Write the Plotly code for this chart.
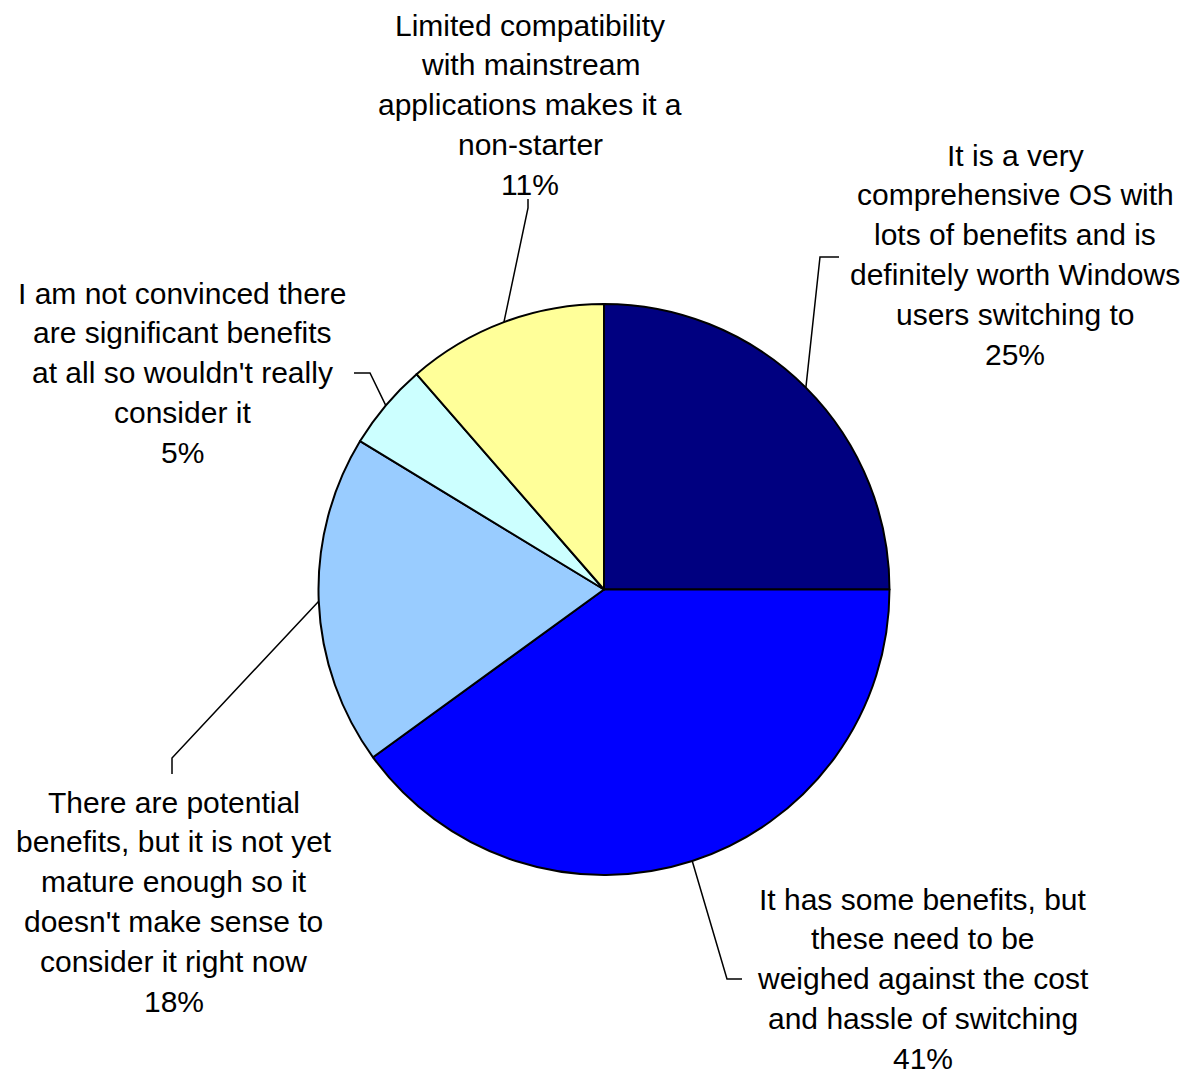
import math
import plotly.graph_objects as go

# ---- data ----
categories = [
    "It is a very comprehensive OS with lots of benefits and is definitely worth Windows users switching to",
    "It has some benefits, but these need to be weighed against the cost and hassle of switching",
    "There are potential benefits, but it is not yet mature enough so it doesn't make sense to consider it right now",
    "I am not convinced there are significant benefits at all so wouldn't really consider it",
    "Limited compatibility with mainstream applications makes it a non-starter",
]
values = [25.0, 40.0, 18.7, 4.9, 11.4]          # slice sizes
pct_labels = ["25%", "41%", "18%", "5%", "11%"]  # percentages as printed
label_lines = [
    ["It is a very", "comprehensive OS with", "lots of benefits and is",
     "definitely worth Windows", "users switching to"],
    ["It has some benefits, but", "these need to be", "weighed against the cost",
     "and hassle of switching"],
    ["There are potential", "benefits, but it is not yet", "mature enough so it",
     "doesn't make sense to", "consider it right now"],
    ["I am not convinced there", "are significant benefits", "at all so wouldn't really",
     "consider it"],
    ["Limited compatibility", "with mainstream", "applications makes it a",
     "non-starter"],
]
colors = ["#000080", "#0000FF", "#99CCFF", "#CCFFFF", "#FFFF99"]

# ---- layout constants (window pixels) ----
WIN_W, WIN_H = 1193, 1074
OFF = 8  # default page body margin
W, H = WIN_W - OFF, WIN_H - OFF
CX, CY, R = 604, 589.5, 285.5
# label block: (center x, first line y)
label_pos = [(1015, 155), (923, 899), (174, 802), (182, 293), (530, 25)]
LINE_H = 39.8
# leader: elbow point, end point
leaders = [((820, 257), (839, 257)),
           ((727, 979), (742, 979)),
           ((172, 758), (172, 774)),
           ((370, 373), (354, 373)),
           ((528, 208), (528, 199))]


def px(x, y):
    return (x - OFF) / W, 1 - (y - OFF) / H


fig = go.Figure()
x0, y0 = px(CX - R, CY + R)
x1, y1 = px(CX + R, CY - R)
fig.add_trace(go.Pie(
    labels=categories, values=values, sort=False, direction="clockwise",
    rotation=0, textinfo="none", hoverinfo="label+percent",
    marker=dict(colors=colors, line=dict(color="black", width=2)),
    domain=dict(x=[x0, x1], y=[y0, y1]), showlegend=False,
))

annotations = []
shapes = []
total = sum(values)
cum = 0.0
for i, v in enumerate(values):
    mid = (cum + v / 2) / total * 2 * math.pi
    cum += v
    sx = CX + R * math.sin(mid)
    sy = CY - R * math.cos(mid)
    (ex, ey), (tx, ty) = leaders[i]
    path_pts = [px(sx, sy), px(ex, ey), px(tx, ty)]
    path = "M {} {} L {} {} L {} {}".format(*[c for p in path_pts for c in p])
    shapes.append(dict(type="path", path=path, xref="paper", yref="paper",
                       line=dict(color="black", width=1.5)))
    lx, ly = label_pos[i]
    lines = label_lines[i] + [pct_labels[i]]
    for j, t in enumerate(lines):
        ax, ay = px(lx, ly + j * LINE_H)
        annotations.append(dict(x=ax, y=ay, xref="paper", yref="paper",
                                text=t, showarrow=False, xanchor="center",
                                yanchor="middle",
                                font=dict(family="Liberation Sans, Arial, sans-serif",
                                          size=30, color="black")))

fig.update_layout(
    width=W, height=H, margin=dict(l=0, r=0, t=0, b=0),
    paper_bgcolor="white", plot_bgcolor="white",
    annotations=annotations, shapes=shapes,
)
fig.write_html("out.html")
